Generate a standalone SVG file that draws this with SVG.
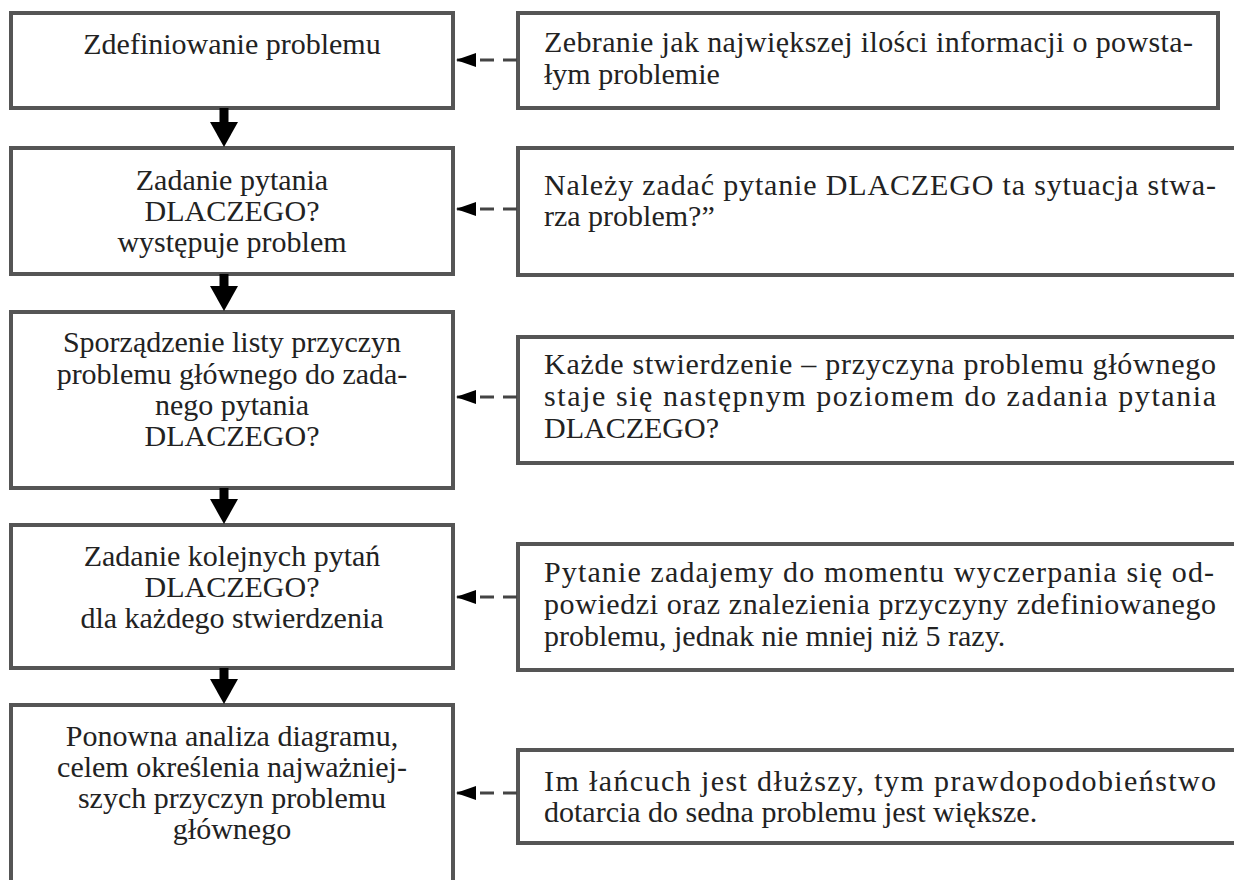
<svg xmlns="http://www.w3.org/2000/svg" width="1234" height="880" viewBox="0 0 1234 880">
<style>
.box{fill:#ffffff;stroke:#555555;stroke-width:4}
text{font-family:'Liberation Serif','DejaVu Serif',serif;font-size:30px;fill:#222222}
.c{text-anchor:middle}
.dash{stroke:#444444;stroke-width:3;stroke-dasharray:14 9;fill:none}
.down{stroke:#000000;stroke-width:9;fill:none}
</style>
<defs>
<marker id="ah" markerUnits="userSpaceOnUse" markerWidth="20" markerHeight="14" viewBox="0 0 20 14" refX="20" refY="7" orient="auto">
<path d="M20,7 L0,0 L0,14 z" fill="#000000"/>
</marker>
<marker id="dh" markerUnits="userSpaceOnUse" markerWidth="25" markerHeight="28" viewBox="0 0 25 28" refX="0" refY="14" orient="auto">
<path d="M0,0 L25,14 L0,28 z" fill="#000000"/>
</marker>
</defs>
<rect width="1234" height="880" fill="#ffffff"/>
<g font-family="Liberation Serif, DejaVu Serif, serif" font-size="30">
<g id="L1">
<rect class="box" x="11" y="13" width="442" height="95"/>
<text class="c" x="232" y="54">Zdefiniowanie problemu</text>
</g>
<g id="L2">
<rect class="box" x="11" y="148" width="442" height="126"/>
<text class="c" x="232" y="190">Zadanie pytania</text>
<text class="c" x="232" y="221">DLACZEGO?</text>
<text class="c" x="232" y="252">występuje problem</text>
</g>
<g id="L3">
<rect class="box" x="11" y="312" width="442" height="176"/>
<text class="c" x="232" y="352">Sporządzenie listy przyczyn</text>
<text class="c" x="232" y="384">problemu głównego do zada-</text>
<text class="c" x="232" y="415">nego pytania</text>
<text class="c" x="232" y="446">DLACZEGO?</text>
</g>
<g id="L4">
<rect class="box" x="11" y="525" width="442" height="143"/>
<text class="c" x="232" y="566">Zadanie kolejnych pytań</text>
<text class="c" x="232" y="597">DLACZEGO?</text>
<text class="c" x="232" y="628">dla każdego stwierdzenia</text>
</g>
<g id="L5">
<rect class="box" x="11" y="705" width="442" height="200"/>
<text class="c" x="232" y="746">Ponowna analiza diagramu,</text>
<text class="c" x="232" y="777">celem określenia najważniej-</text>
<text class="c" x="232" y="808">szych przyczyn problemu</text>
<text class="c" x="232" y="839">głównego</text>
</g>

<g id="R1">
<rect class="box" x="518" y="13" width="700" height="95"/>
<text x="544" y="52" textLength="649" lengthAdjust="spacing">Zebranie jak największej ilości informacji o powsta-</text>
<text x="544" y="84">łym problemie</text>
</g>
<g id="R2">
<rect class="box" x="518" y="148" width="730" height="127"/>
<text x="544" y="195" textLength="672" lengthAdjust="spacing">Należy zadać pytanie DLACZEGO ta sytuacja stwa-</text>
<text x="544" y="226">rza problem?”</text>
</g>
<g id="R3">
<rect class="box" x="518" y="337" width="730" height="126"/>
<text x="544" y="374" textLength="672" lengthAdjust="spacing">Każde stwierdzenie – przyczyna problemu głównego</text>
<text x="544" y="406" textLength="672" lengthAdjust="spacing">staje się następnym poziomem do zadania pytania</text>
<text x="544" y="438">DLACZEGO?</text>
</g>
<g id="R4">
<rect class="box" x="518" y="544" width="730" height="126"/>
<text x="544" y="582" textLength="670" lengthAdjust="spacing">Pytanie zadajemy do momentu wyczerpania się od-</text>
<text x="544" y="614" textLength="672" lengthAdjust="spacing">powiedzi oraz znalezienia przyczyny zdefiniowanego</text>
<text x="544" y="646">problemu, jednak nie mniej niż 5 razy.</text>
</g>
<g id="R5">
<rect class="box" x="518" y="750" width="730" height="93"/>
<text x="544" y="791" textLength="672" lengthAdjust="spacing">Im łańcuch jest dłuższy, tym prawdopodobieństwo</text>
<text x="544" y="822">dotarcia do sedna problemu jest większe.</text>
</g>
</g>
<g id="connectors">
<path class="down" d="M224,108 L224,122" marker-end="url(#dh)"/>
<path class="down" d="M224,274 L224,286" marker-end="url(#dh)"/>
<path class="down" d="M224,488 L224,499" marker-end="url(#dh)"/>
<path class="down" d="M224,668 L224,679" marker-end="url(#dh)"/>
<path class="dash" d="M517,60 L456,60" marker-end="url(#ah)"/>
<path class="dash" d="M517,209 L456,209" marker-end="url(#ah)"/>
<path class="dash" d="M517,397 L456,397" marker-end="url(#ah)"/>
<path class="dash" d="M517,597 L456,597" marker-end="url(#ah)"/>
<path class="dash" d="M517,793 L456,793" marker-end="url(#ah)"/>
</g>
</svg>
